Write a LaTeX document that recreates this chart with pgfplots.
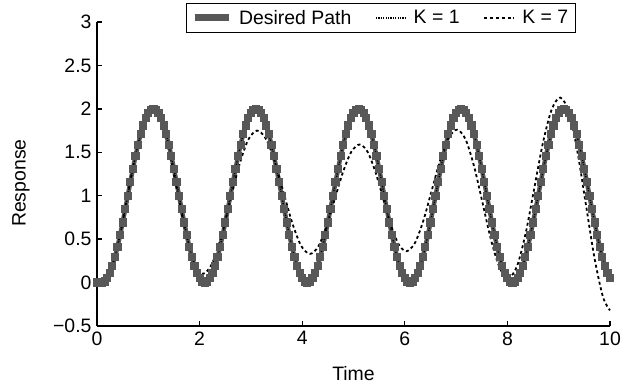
\documentclass[border=0pt]{standalone}
\usepackage{fontspec}
\setmainfont{Liberation Sans}
\usepackage{pgfplots}
\usepackage{pgfplotstable}
\pgfplotsset{compat=1.18}
\definecolor{dgray}{RGB}{88,88,88}

\pgfplotstableread{
t y
0.00 0
0.05 0
0.10 0
0.15 0.0123
0.20 0.0489
0.25 0.1090
0.30 0.1910
0.35 0.2929
0.40 0.4122
0.45 0.5460
0.50 0.6910
0.55 0.8436
0.60 1
0.65 1.1564
0.70 1.3090
0.75 1.4540
0.80 1.5878
0.85 1.7071
0.90 1.8090
0.95 1.8910
1.00 1.9511
1.05 1.9877
1.10 2
1.15 1.9877
1.20 1.9511
1.25 1.8910
1.30 1.8090
1.35 1.7071
1.40 1.5878
1.45 1.4540
1.50 1.3090
1.55 1.1564
1.60 1
1.65 0.8436
1.70 0.6910
1.75 0.5460
1.80 0.4122
1.85 0.2929
1.90 0.1910
1.95 0.1090
2.00 0.0489
2.05 0.0123
2.10 0
2.15 0.0123
2.20 0.0489
2.25 0.1090
2.30 0.1910
2.35 0.2929
2.40 0.4122
2.45 0.5460
2.50 0.6910
2.55 0.8436
2.60 1
2.65 1.1564
2.70 1.3090
2.75 1.4540
2.80 1.5878
2.85 1.7071
2.90 1.8090
2.95 1.8910
3.00 1.9511
3.05 1.9877
3.10 2
3.15 1.9877
3.20 1.9511
3.25 1.8910
3.30 1.8090
3.35 1.7071
3.40 1.5878
3.45 1.4540
3.50 1.3090
3.55 1.1564
3.60 1
3.65 0.8436
3.70 0.6910
3.75 0.5460
3.80 0.4122
3.85 0.2929
3.90 0.1910
3.95 0.1090
4.00 0.0489
4.05 0.0123
4.10 0
4.15 0.0123
4.20 0.0489
4.25 0.1090
4.30 0.1910
4.35 0.2929
4.40 0.4122
4.45 0.5460
4.50 0.6910
4.55 0.8436
4.60 1
4.65 1.1564
4.70 1.3090
4.75 1.4540
4.80 1.5878
4.85 1.7071
4.90 1.8090
4.95 1.8910
5.00 1.9511
5.05 1.9877
5.10 2
5.15 1.9877
5.20 1.9511
5.25 1.8910
5.30 1.8090
5.35 1.7071
5.40 1.5878
5.45 1.4540
5.50 1.3090
5.55 1.1564
5.60 1
5.65 0.8436
5.70 0.6910
5.75 0.5460
5.80 0.4122
5.85 0.2929
5.90 0.1910
5.95 0.1090
6.00 0.0489
6.05 0.0123
6.10 0
6.15 0.0123
6.20 0.0489
6.25 0.1090
6.30 0.1910
6.35 0.2929
6.40 0.4122
6.45 0.5460
6.50 0.6910
6.55 0.8436
6.60 1
6.65 1.1564
6.70 1.3090
6.75 1.4540
6.80 1.5878
6.85 1.7071
6.90 1.8090
6.95 1.8910
7.00 1.9511
7.05 1.9877
7.10 2
7.15 1.9877
7.20 1.9511
7.25 1.8910
7.30 1.8090
7.35 1.7071
7.40 1.5878
7.45 1.4540
7.50 1.3090
7.55 1.1564
7.60 1
7.65 0.8436
7.70 0.6910
7.75 0.5460
7.80 0.4122
7.85 0.2929
7.90 0.1910
7.95 0.1090
8.00 0.0489
8.05 0.0123
8.10 0
8.15 0.0123
8.20 0.0489
8.25 0.1090
8.30 0.1910
8.35 0.2929
8.40 0.4122
8.45 0.5460
8.50 0.6910
8.55 0.8436
8.60 1
8.65 1.1564
8.70 1.3090
8.75 1.4540
8.80 1.5878
8.85 1.7071
8.90 1.8090
8.95 1.8910
9.00 1.9511
9.05 1.9877
9.10 2
9.15 1.9877
9.20 1.9511
9.25 1.8910
9.30 1.8090
9.35 1.7071
9.40 1.5878
9.45 1.4540
9.50 1.3090
9.55 1.1564
9.60 1
9.65 0.8436
9.70 0.6910
9.75 0.5460
9.80 0.4122
9.85 0.2929
9.90 0.1910
9.95 0.1090
10.00 0.0489
}\desired

\pgfplotstableread{
t y
0.0 0
0.1 0
0.2 0.0489
0.3 0.1910
0.4 0.4122
0.5 0.6910
0.6 1
0.7 1.3090
0.8 1.5878
0.9 1.8090
1.0 1.9511
1.1 2
1.2 1.9511
1.3 1.8090
1.4 1.5878
1.5 1.3090
1.6 1
1.7 0.6910
1.8 0.4122
1.9 0.1910
2.0 0.0489
2.1 0
2.2 0.0489
2.3 0.1910
2.4 0.4122
2.5 0.6910
2.6 1
2.7 1.3090
2.8 1.5878
2.9 1.8090
3.0 1.9511
3.1 2
3.2 1.9511
3.3 1.8090
3.4 1.5878
3.5 1.3090
3.6 1
3.7 0.6910
3.8 0.4122
3.9 0.1910
4.0 0.0489
4.1 0
4.2 0.0489
4.3 0.1910
4.4 0.4122
4.5 0.6910
4.6 1
4.7 1.3090
4.8 1.5878
4.9 1.8090
5.0 1.9511
5.1 2
5.2 1.9511
5.3 1.8090
5.4 1.5878
5.5 1.3090
5.6 1
5.7 0.6910
5.8 0.4122
5.9 0.1910
6.0 0.0489
6.1 0
6.2 0.0489
6.3 0.1910
6.4 0.4122
6.5 0.6910
6.6 1
6.7 1.3090
6.8 1.5878
6.9 1.8090
7.0 1.9511
7.1 2
7.2 1.9511
7.3 1.8090
7.4 1.5878
7.5 1.3090
7.6 1
7.7 0.6910
7.8 0.4122
7.9 0.1910
8.0 0.0489
8.1 0
8.2 0.0489
8.3 0.1910
8.4 0.4122
8.5 0.6910
8.6 1
8.7 1.3090
8.8 1.5878
8.9 1.8090
9.0 1.9511
9.1 2
9.2 1.9511
9.3 1.8090
9.4 1.5878
9.5 1.3090
9.6 1
9.7 0.6910
9.8 0.4122
9.9 0.1910
10.0 0.0489
}\kone

\pgfplotstableread{
t y
0.0 0
0.1 0
0.263 0.132
0.427 0.4925
0.59 0.985
0.753 1.4775
0.917 1.838
1.08 1.97
1.243 1.845
1.407 1.5025
1.57 1.035
1.733 0.5675
1.897 0.225
2.06 0.10
2.237 0.2106
2.413 0.5125
2.59 0.925
2.767 1.3375
2.943 1.639
3.12 1.75
3.292 1.655
3.463 1.395
3.635 1.04
3.807 0.685
3.978 0.425
4.15 0.33
4.312 0.4144
4.473 0.645
4.635 0.96
4.797 1.275
4.958 1.5056
5.12 1.59
5.272 1.5076
5.423 1.2825
5.575 0.975
5.727 0.6675
5.878 0.4424
6.03 0.36
6.195 0.4538
6.36 0.71
6.525 1.06
6.69 1.41
6.855 1.6662
7.02 1.76
7.187 1.6454
7.353 1.3325
7.52 0.905
7.687 0.4775
7.853 0.1646
8.02 0.05
8.188 0.1894
8.357 0.57
8.525 1.09
8.693 1.61
8.862 1.9906
9.03 2.13
9.197 1.965
9.363 1.515
9.53 0.90
9.697 0.285
9.863 -0.165
10.0 -0.32
}\kseven

\begin{document}
\begin{tikzpicture}
\useasboundingbox (-97bp,-62bp) rectangle (530bp,326bp);
\begin{axis}[
  at={(0,0)}, anchor=south west,
  scale only axis, width=513bp, height=304bp,
  xmin=0, xmax=10, ymin=-0.5, ymax=3,
  axis lines=left,
  axis line style={-, line width=1.4pt, black},
  tick align=inside, major tick length=5bp,
  tick style={line width=1.4pt, black},
  xtick={0,2,4,6,8,10},
  xticklabels={0,2,4,6,8,10},
  ytick={-0.5,0,0.5,1,1.5,2,2.5,3},
  yticklabels={−0.5,0,0.5,1,1.5,2,2.5,3},
  ticklabel style={font=\fontsize{19.5}{22}\selectfont},
  xticklabel style={yshift=-2bp},
  yticklabel style={xshift=-2bp},
  xlabel={Time}, ylabel={Response},
  label style={font=\fontsize{19.5}{22}\selectfont},
  xlabel style={at={(axis description cs:0.5,-0.158)}, anchor=center},
  ylabel style={at={(axis description cs:-0.148,0.47)}, anchor=center},
  clip=false,
  legend columns=3,
  legend style={at={(axis description cs:0.553,1.064)}, anchor=north,
    draw=black, line width=1.2pt, fill=white,
    font=\fontsize{19.5}{22}\selectfont,
    inner xsep=5bp, inner ysep=5bp,
    /tikz/every odd column/.append style={column sep=5bp},
    /tikz/every even column/.append style={column sep=22bp}},
  legend image code/.code={\draw[#1] (0bp,0bp) -- (30bp,0bp);},
]
\addplot[color=dgray, line width=4.5pt, mark=square*, mark size=3.6pt,
  mark options={solid, fill=dgray, draw=dgray, line width=0pt},
  legend image code/.code={\draw[line width=7pt, dgray] (0bp,0bp) -- (34bp,0bp);}]
  table[x=t, y=y] {\desired};
\addplot[black, line width=1.3pt, smooth, dash pattern=on 1.2pt off 1.2pt]
  table[x=t, y=y] {\kone};
\addplot[black, line width=1.8pt, smooth, dash pattern=on 3pt off 2.8pt]
  table[x=t, y=y] {\kseven};
\legend{Desired Path, K = 1, K = 7}
\end{axis}
\end{tikzpicture}
\end{document}
